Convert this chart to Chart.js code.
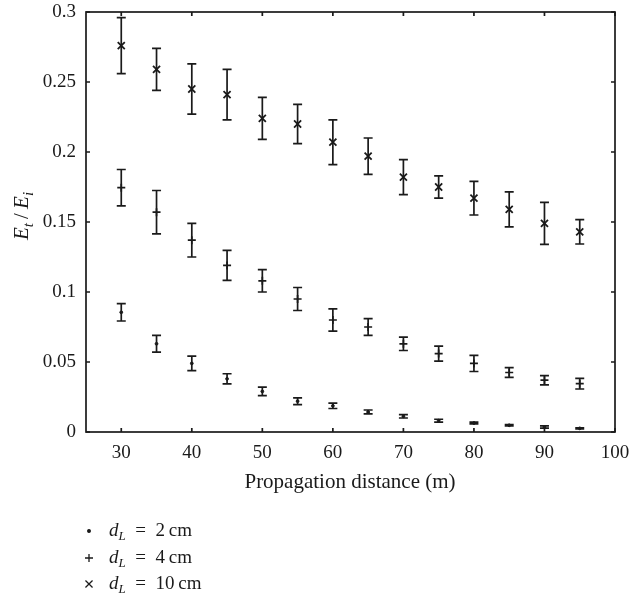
<!DOCTYPE html>
<html>
<head>
<meta charset="utf-8">
<script src="https://cdn.jsdelivr.net/npm/chart.js@4/dist/chart.umd.min.js"></script>
<style>
    body { margin: 0; background: #fff; }
    #wrap { width: 629px; height: 599px; }
</style>
</head>
<body>
<div id="wrap"><canvas id="transChart" width="629" height="599"></canvas></div>
<script>
// Transmission ratio vs propagation distance

const distances = [30, 35, 40, 45, 50, 55, 60, 65, 70, 75, 80, 85, 90, 95];

const ratio2cm = [0.0855, 0.063, 0.049, 0.038, 0.029, 0.022, 0.0187, 0.0143, 0.0112, 0.0081, 0.0064, 0.0048, 0.0036, 0.0026];
const err2cm   = [0.0062, 0.006, 0.0052, 0.0036, 0.003, 0.0024, 0.0019, 0.0014, 0.0012, 0.001, 0.0006, 0.0005, 0.0008, 0.0004];

const ratio4cm = [0.1745, 0.157, 0.137, 0.119, 0.108, 0.095, 0.080, 0.075, 0.063, 0.056, 0.049, 0.0425, 0.037, 0.0345];
const err4cm   = [0.013, 0.0155, 0.012, 0.0107, 0.008, 0.0082, 0.0079, 0.006, 0.0048, 0.0054, 0.0058, 0.0035, 0.0033, 0.0038];

const ratio10cm = [0.276, 0.259, 0.245, 0.241, 0.224, 0.220, 0.207, 0.197, 0.182, 0.175, 0.167, 0.159, 0.149, 0.143];
const err10cm   = [0.020, 0.015, 0.018, 0.018, 0.015, 0.014, 0.016, 0.013, 0.0125, 0.008, 0.012, 0.0125, 0.015, 0.0087];

const seriesNames = ['2', '4', '10'];
const xTicks = [30, 40, 50, 60, 70, 80, 90, 100];
const yTicks = [0, 0.05, 0.1, 0.15, 0.2, 0.25, 0.3];
const yTickLabels = ['0', '0.05', '0.1', '0.15', '0.2', '0.25', '0.3'];

const INK = '#1a1a1a';
const SERIF = '"Liberation Serif", "DejaVu Serif", serif';

function toPoints(values) {
    return distances.map((d, i) => ({ x: d, y: values[i] }));
}

// vertical error bars with caps
const errorBars = {
    id: 'errorBars',
    afterDatasetsDraw(chart) {
        const { ctx, scales: { x, y } } = chart;
        ctx.save();
        ctx.strokeStyle = INK;
        ctx.lineWidth = 1.7;
        chart.data.datasets.forEach(ds => {
            ds.data.forEach((p, i) => {
                const e = ds.errors[i];
                const px = x.getPixelForValue(p.x);
                const top = y.getPixelForValue(p.y + e);
                const bot = y.getPixelForValue(p.y - e);
                ctx.beginPath();
                ctx.moveTo(px, top); ctx.lineTo(px, bot);
                ctx.moveTo(px - 4.5, top); ctx.lineTo(px + 4.5, top);
                ctx.moveTo(px - 4.5, bot); ctx.lineTo(px + 4.5, bot);
                ctx.stroke();
            });
        });
        ctx.restore();
    }
};

// box frame and inward ticks on all four sides
const frame = {
    id: 'frame',
    afterDraw(chart) {
        const { ctx, chartArea: a, scales: { x, y } } = chart;
        ctx.save();
        ctx.strokeStyle = INK;
        ctx.lineWidth = 1.7;
        ctx.strokeRect(a.left, a.top, a.right - a.left, a.bottom - a.top);
        ctx.beginPath();
        xTicks.forEach(v => {
            const px = x.getPixelForValue(v);
            ctx.moveTo(px, a.bottom); ctx.lineTo(px, a.bottom - 4);
            ctx.moveTo(px, a.top); ctx.lineTo(px, a.top + 4);
        });
        yTicks.forEach(v => {
            const py = y.getPixelForValue(v);
            ctx.moveTo(a.left, py); ctx.lineTo(a.left + 4, py);
            ctx.moveTo(a.right, py); ctx.lineTo(a.right - 4, py);
        });
        ctx.stroke();
        ctx.restore();
    }
};

// draws text pieces left to right (with baseline shifts), returns end x
function drawSub(ctx, parts, x, y) {
    parts.forEach(([text, font, dy]) => {
        ctx.font = font;
        ctx.fillText(text, x, y + dy);
        x += ctx.measureText(text).width;
    });
    return x;
}
function measureSub(ctx, parts) {
    let w = 0;
    parts.forEach(([text, font]) => { ctx.font = font; w += ctx.measureText(text).width; });
    return w;
}

const titles = {
    id: 'titles',
    afterDraw(chart) {
        const { ctx } = chart;
        ctx.save();
        ctx.fillStyle = INK;
        ctx.textBaseline = 'alphabetic';

        // x title
        ctx.font = '21px ' + SERIF;
        ctx.textAlign = 'center';
        ctx.fillText('Propagation distance (m)', 350, 488);
        ctx.textAlign = 'left';

        // y title, rotated
        const it = 'italic 21px ' + SERIF;
        const sub = 'italic 15px ' + SERIF;
        const rm = '21px ' + SERIF;
        const yParts = [['E', it, 0], ['t', sub, 5], ['\u2009/\u2009', rm, 0], ['E', it, 0], ['i', sub, 5]];
        ctx.save();
        ctx.translate(28, 216);
        ctx.rotate(-Math.PI / 2);
        drawSub(ctx, yParts, -measureSub(ctx, yParts) / 2, 0);
        ctx.restore();

        // legend
        const lit = 'italic 19px ' + SERIF;
        const lsub = 'italic 13px ' + SERIF;
        const lrm = '19px ' + SERIF;
        const rows = [531, 558, 584];
        chart.data.datasets.forEach((ds, i) => {
            const cy = rows[i];
            ctx.strokeStyle = INK;
            ctx.lineWidth = 1.3;
            Chart.helpers.drawPoint(ctx, {
                pointStyle: ds.pointStyle, radius: ds.legendRadius, rotation: 0, borderWidth: 1.3
            }, 89, cy);
            if (ds.pointStyle === 'circle') { ctx.fillStyle = INK; ctx.fill(); }
            ctx.fillStyle = INK;
            drawSub(ctx, [
                ['d', lit, 0], ['L', lsub, 4],
                ['\u2002=\u2002' + seriesNames[i] + '\u2009cm', lrm, 0]
            ], 109, cy + 5);
        });
        ctx.restore();
    }
};

const ctx = document.getElementById('transChart').getContext('2d');
new Chart(ctx, {
    type: 'scatter',
    data: {
        datasets: [
            {
                label: 'd_L = 2 cm', data: toPoints(ratio2cm), errors: err2cm,
                pointStyle: 'circle', pointRadius: 1.4, legendRadius: 1.3,
                backgroundColor: INK, borderColor: INK, borderWidth: 1
            },
            {
                label: 'd_L = 4 cm', data: toPoints(ratio4cm), errors: err4cm,
                pointStyle: 'cross', pointRadius: 4, legendRadius: 4,
                backgroundColor: INK, borderColor: INK, borderWidth: 1.7
            },
            {
                label: 'd_L = 10 cm', data: toPoints(ratio10cm), errors: err10cm,
                pointStyle: 'crossRot', pointRadius: 5, legendRadius: 5,
                backgroundColor: INK, borderColor: INK, borderWidth: 1.8
            }
        ]
    },
    options: {
        responsive: false,
        animation: false,
        layout: { padding: { top: 12, right: 14, left: 0, bottom: 0 } },
        plugins: { legend: { display: false }, tooltip: { enabled: false } },
        scales: {
            x: {
                type: 'linear', min: 25, max: 100,
                grid: { display: false, drawTicks: false },
                border: { display: false },
                afterBuildTicks: s => { s.ticks = xTicks.map(v => ({ value: v })); },
                afterFit: s => { s.height = 167; s.paddingLeft = 0; s.paddingRight = 0; },
                ticks: { color: INK, padding: 10, font: { family: SERIF, size: 19 }, maxRotation: 0 }
            },
            y: {
                type: 'linear', min: 0, max: 0.3,
                grid: { display: false, drawTicks: false },
                border: { display: false },
                afterBuildTicks: s => { s.ticks = yTicks.map(v => ({ value: v })); },
                afterFit: s => { s.width = 86; s.paddingTop = 0; s.paddingBottom = 0; },
                ticks: {
                    color: INK, padding: 10, font: { family: SERIF, size: 19 },
                    callback: (v) => yTickLabels[yTicks.indexOf(v)]
                }
            }
        }
    },
    plugins: [errorBars, frame, titles]
});
</script>
</body>
</html>
